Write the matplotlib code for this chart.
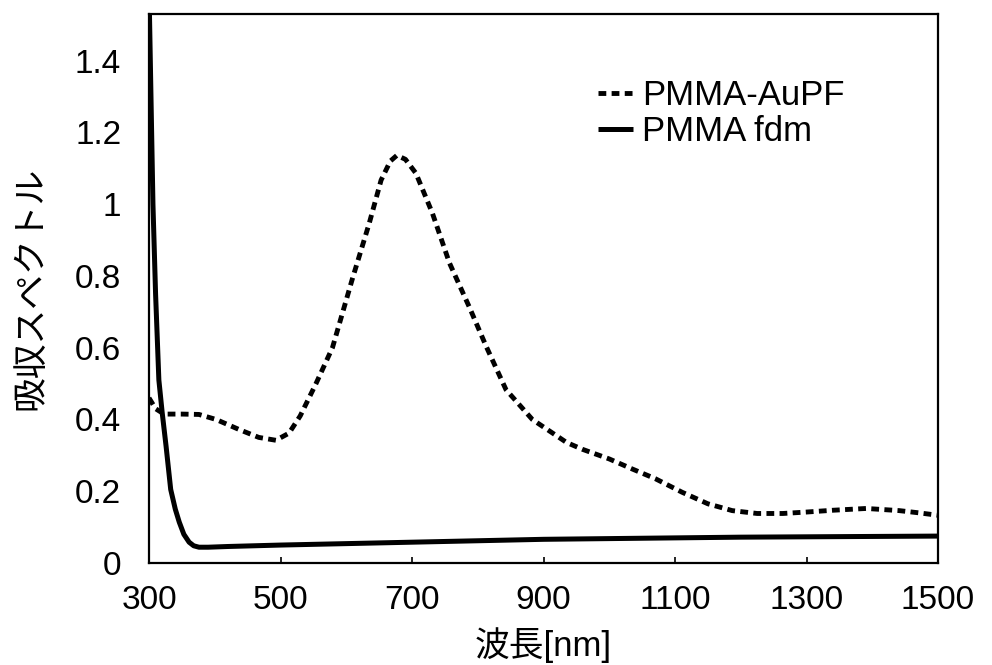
import numpy as np
from matplotlib import pyplot as plt

plt.rcParams['font.family'] = ['Liberation Sans', 'Noto Sans CJK JP']

# PMMA-AuPF (dotted curve)
aupf_wl = [300, 310, 323, 350, 376, 402, 437, 467, 493, 513, 530, 554, 579, 609, 635, 653, 667,
           677, 690, 706, 731, 757, 787, 813, 843, 883, 935, 959, 1000, 1035, 1070, 1111,
           1150, 1187, 1225, 1264, 1300, 1340, 1391, 1441, 1470, 1500]
aupf_abs = [0.46, 0.43, 0.415, 0.415, 0.414, 0.40, 0.372, 0.35, 0.342, 0.362, 0.41, 0.50, 0.60,
            0.79, 0.947, 1.067, 1.12, 1.136, 1.125, 1.086, 0.975, 0.836, 0.714, 0.603, 0.483,
            0.40, 0.336, 0.317, 0.29, 0.262, 0.235, 0.197, 0.165, 0.146, 0.138, 0.138, 0.142,
            0.147, 0.152, 0.146, 0.14, 0.133]

# PMMA fdm (solid curve)
fdm_wl = [300, 303, 306, 310, 315, 320, 326, 333, 340, 346, 353, 361, 368, 376, 390, 420, 500,
          600, 700, 800, 900, 1000, 1100, 1200, 1300, 1400, 1500]
fdm_abs = [1.6, 1.3, 1.0, 0.75, 0.51, 0.42, 0.325, 0.205, 0.15, 0.114, 0.08, 0.058, 0.048, 0.044,
           0.044, 0.046, 0.05, 0.054, 0.058, 0.062, 0.066, 0.068, 0.07, 0.072, 0.073, 0.074, 0.075]

xticks = [300, 500, 700, 900, 1100, 1300, 1500]
yticks = [0, 0.2, 0.4, 0.6, 0.8, 1, 1.2, 1.4]
ytick_labels = ['0', '0.2', '0.4', '0.6', '0.8', '1', '1.2', '1.4']

fig = plt.figure(figsize=(9.92, 6.65), dpi=100)
ax = fig.add_axes([149/992, 1 - 563/665, 789/992, 549/665])

ax.plot(aupf_wl, aupf_abs, color='k', lw=3.5, linestyle=(0, (1.6, 1.1)), label='PMMA-AuPF')
ax.plot(fdm_wl, fdm_abs, color='k', lw=3.6, solid_capstyle='butt', label='PMMA fdm')

ax.set_xlim(300, 1500)
ax.set_ylim(0, 1.53)
ax.set_xticks(xticks)
ax.set_yticks(yticks)
ax.set_yticklabels(ytick_labels)
ax.tick_params(axis='x', direction='in', length=4, width=1.2, labelsize=24, pad=16)
ax.tick_params(axis='y', direction='in', length=0, labelsize=24, pad=20)
for sp in ax.spines.values():
    sp.set_linewidth(1.6)

ax.set_xlabel('波長[nm]', fontsize=25, labelpad=8)
ax.set_ylabel('吸収スペクトル', fontsize=25, labelpad=20)

ax.legend(loc='upper left', bbox_to_anchor=(0.569, 0.882), frameon=False, fontsize=25,
          handlelength=1.0, handletextpad=0.26, labelspacing=0.1, borderpad=0, borderaxespad=0)

fig.savefig('out.png', dpi=100)
